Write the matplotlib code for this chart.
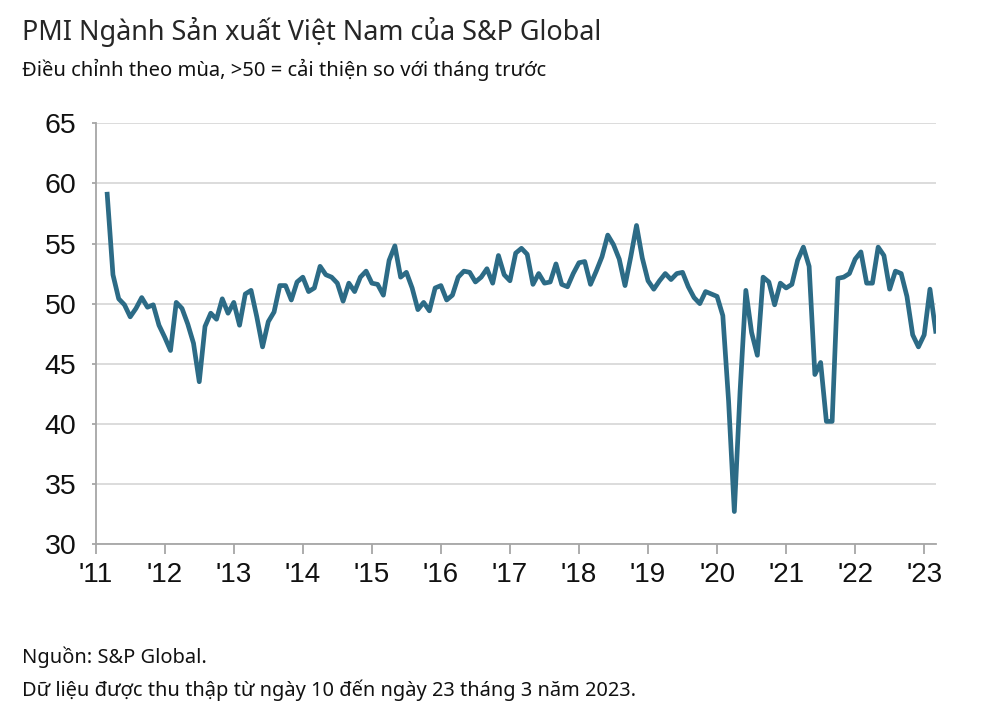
import matplotlib
matplotlib.use("Agg")
import matplotlib.pyplot as plt
import numpy as np

# ---- data: monthly PMI, Mar 2011 - Mar 2023 ----
start_year = 2011
start_month = 3
pmi_2011 = [59.1, 52.4, 50.4, 49.9, 48.9, 49.6, 50.5, 49.7, 49.9, 48.2]
pmi_2012 = [47.2, 46.1, 50.1, 49.6, 48.3, 46.7, 43.5, 48.1, 49.2, 48.7, 50.4, 49.2]
pmi_2013 = [50.1, 48.2, 50.8, 51.1, 48.9, 46.4, 48.5, 49.3, 51.5, 51.5, 50.3, 51.8]
pmi_2014 = [52.2, 51.0, 51.3, 53.1, 52.4, 52.2, 51.7, 50.2, 51.7, 51.0, 52.2, 52.7]
pmi_2015 = [51.7, 51.6, 50.7, 53.6, 54.8, 52.2, 52.6, 51.3, 49.5, 50.1, 49.4, 51.3]
pmi_2016 = [51.5, 50.3, 50.7, 52.2, 52.7, 52.6, 51.8, 52.2, 52.9, 51.7, 54.0, 52.4]
pmi_2017 = [51.9, 54.2, 54.6, 54.1, 51.6, 52.5, 51.7, 51.8, 53.3, 51.6, 51.4, 52.5]
pmi_2018 = [53.4, 53.5, 51.6, 52.7, 53.9, 55.7, 54.9, 53.7, 51.5, 53.9, 56.5, 53.8]
pmi_2019 = [51.9, 51.2, 51.9, 52.5, 52.0, 52.5, 52.6, 51.4, 50.5, 50.0, 51.0, 50.8]
pmi_2020 = [50.6, 49.0, 41.9, 32.7, 42.7, 51.1, 47.6, 45.7, 52.2, 51.8, 49.9, 51.7]
pmi_2021 = [51.3, 51.6, 53.6, 54.7, 53.1, 44.1, 45.1, 40.2, 40.2, 52.1, 52.2, 52.5]
pmi_2022 = [53.7, 54.3, 51.7, 51.7, 54.7, 54.0, 51.2, 52.7, 52.5, 50.6, 47.4, 46.4]
pmi_2023 = [47.4, 51.2, 47.7]

year_ticks = list(range(2011, 2024))
year_labels = ["'11", "'12", "'13", "'14", "'15", "'16", "'17", "'18", "'19",
               "'20", "'21", "'22", "'23"]
y_ticks = [30, 35, 40, 45, 50, 55, 60, 65]

title = "PMI Ngành Sản xuất Việt Nam của S&P Global"
subtitle = "Điều chỉnh theo mùa, >50 = cải thiện so với tháng trước"
source1 = "Nguồn: S&P Global."
source2 = "Dữ liệu được thu thập từ ngày 10 đến ngày 23 tháng 3 năm 2023."

values = (pmi_2011 + pmi_2012 + pmi_2013 + pmi_2014 + pmi_2015 + pmi_2016 +
          pmi_2017 + pmi_2018 + pmi_2019 + pmi_2020 + pmi_2021 + pmi_2022 + pmi_2023)
t = np.array([start_year + (start_month - 1 + i) / 12.0 for i in range(len(values))])

W, H = 1000, 714
fig = plt.figure(figsize=(W / 100, H / 100), dpi=100)
fig.patch.set_facecolor("white")

L, R, T, B = 95.7, 935.7, 123.3, 544.0
ax = fig.add_axes([L / W, 1 - B / H, (R - L) / W, (B - T) / H])

line_color = "#2c6b86"
ax.plot(t, values, color=line_color, lw=3.4, solid_joinstyle="round", zorder=3)

ax.set_xlim(2011, t[-1])
ax.set_ylim(30, 65)
ax.set_yticks(y_ticks)
ax.set_xticks(year_ticks)
ax.set_xticklabels(year_labels)

ax.grid(axis="y", color="#d9d9d9", lw=1.3, zorder=0)
ax.grid(axis="x", visible=False)
for s in ["top", "right"]:
    ax.spines[s].set_visible(False)
for s in ["left", "bottom"]:
    ax.spines[s].set_color("#a6a6a6")
    ax.spines[s].set_linewidth(1.3)

tick_font = ["Liberation Sans", "DejaVu Sans"]
ax.tick_params(axis="x", direction="out", length=7, width=1.3, color="#a6a6a6",
               pad=6, labelsize=20, labelcolor="#111111")
ax.tick_params(axis="y", direction="out", length=3, width=1.3, color="#a6a6a6",
               pad=11, labelsize=20.5, labelcolor="#111111")
for lab in ax.get_xticklabels() + ax.get_yticklabels():
    lab.set_fontfamily(tick_font)

txt_font = ["Noto Sans", "DejaVu Sans"]
fig.text(22 / W, 1 - 32 / H, title, fontsize=19.4, family=txt_font,
         color="#262626", ha="left", va="center")
fig.text(22 / W, 1 - 70 / H, subtitle, fontsize=14.5, family=txt_font,
         color="#111111", ha="left", va="center")
fig.text(22 / W, 1 - 657 / H, source1, fontsize=14.4, family=txt_font,
         color="#111111", ha="left", va="center")
fig.text(22 / W, 1 - 690 / H, source2, fontsize=14.4, family=txt_font,
         color="#111111", ha="left", va="center")

fig.savefig("out.png", dpi=100, facecolor="white")
